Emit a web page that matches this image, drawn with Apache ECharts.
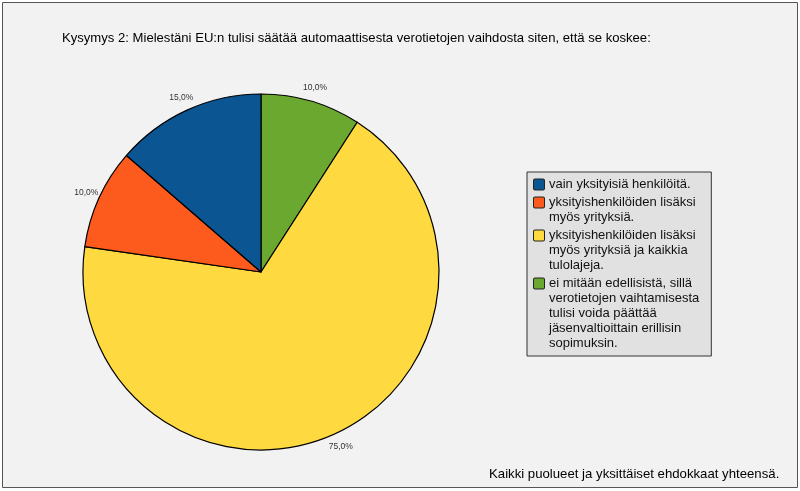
<!DOCTYPE html>
<html>
<head>
<meta charset="utf-8">
<script src="https://cdn.jsdelivr.net/npm/echarts@6/dist/echarts.min.js"></script>
<style>
html,body{margin:0;padding:0;background:#fff;}
#chart{width:800px;height:491px;}
</style>
</head>
<body>
<div id="chart"></div>
<script>
// Data (clockwise from 12 o'clock)
const categories = [
  'ei mitään edellisistä, sillä\nverotietojen vaihtamisesta\ntulisi voida päättää\njäsenvaltioittain erillisin\nsopimuksin.',
  'yksityishenkilöiden lisäksi\nmyös yrityksiä ja kaikkia\ntulolajeja.',
  'yksityishenkilöiden lisäksi\nmyös yrityksiä.',
  'vain yksityisiä henkilöitä.'
];
const values = [10, 75, 10, 15];
const colors = ['#6aa82f', '#fed93f', '#fd5a1e', '#0c5593'];
const legendOrder = [3, 2, 1, 0];
const titleText = 'Kysymys 2: Mielestäni EU:n tulisi säätää automaattisesta verotietojen vaihdosta siten, että se koskee:';
const footerText = 'Kaikki puolueet ja yksittäiset ehdokkaat yhteensä.';

const FONT = '"Liberation Sans", Arial, Helvetica, sans-serif';
const pieData = categories.map((c, i) => ({ name: c, value: values[i], itemStyle: { color: colors[i] } }));

const rich = { t: { fontSize: 13, lineHeight: 15, color: '#111', fontFamily: FONT }, ind: { width: 15, lineHeight: 15 }, gap: { width: 5, lineHeight: 15 } };
colors.forEach((c, i) => {
  rich['sq' + i] = { width: 10, height: 10, lineHeight: 15, backgroundColor: c, borderColor: '#222', borderWidth: 1, borderRadius: 1 };
});

const chart = echarts.init(document.getElementById('chart'), null, { renderer: 'canvas' });
chart.setOption({
  backgroundColor: '#ffffff',
  animation: false,
  graphic: [{
    type: 'rect', z: -10, silent: true,
    shape: { x: 2.5, y: 2.5, width: 795, height: 485 },
    style: { fill: '#f2f2f2', stroke: '#555', lineWidth: 1 }
  }],
  title: [
    { text: titleText, left: 57, top: 27, textStyle: { fontSize: 13.1, fontWeight: 'normal', color: '#000', fontFamily: FONT } },
    { text: footerText, left: 484, top: 463, textStyle: { fontSize: 13.2, fontWeight: 'normal', color: '#000', fontFamily: FONT } }
  ],
  legend: {
    orient: 'vertical',
    left: 527, top: 172,
    icon: 'none',
    itemWidth: 0, itemHeight: 0,
    itemGap: 3,
    padding: [5, 12, 5, 2],
    backgroundColor: '#e1e1e1',
    borderColor: '#333',
    borderWidth: 1,
    selectedMode: false,
    data: legendOrder.map(i => categories[i]),
    formatter: function (name) {
      const idx = categories.indexOf(name);
      return name.split('\n').map((line, k) =>
        (k === 0 ? '{sq' + idx + '| }{gap|}' : '{ind|}') + '{t|' + line + '}'
      ).join('\n');
    },
    textStyle: { fontSize: 13, lineHeight: 15, color: '#111', fontFamily: FONT, rich: rich }
  },
  series: [
    {
      type: 'pie',
      center: [261, 272],
      radius: 178,
      startAngle: 90,
      clockwise: true,
      avoidLabelOverlap: false,
      label: { show: false },
      labelLine: { show: false },
      emphasis: { disabled: true },
      itemStyle: { borderColor: '#000', borderWidth: 1.2 },
      data: pieData
    },
    {
      type: 'pie',
      center: [261, 272],
      radius: [178, 200],
      startAngle: 90,
      clockwise: true,
      silent: true,
      avoidLabelOverlap: false,
      emphasis: { disabled: true },
      itemStyle: { color: 'rgba(0,0,0,0)', borderWidth: 0 },
      label: {
        show: true, position: 'inside',
        fontSize: 8.5, color: '#333', fontFamily: FONT,
        formatter: p => p.value.toFixed(1).replace('.', ',') + '%'
      },
      labelLine: { show: false },
      data: categories.map((c, i) => ({ name: c, value: values[i] }))
    }
  ]
});
</script>
</body>
</html>
